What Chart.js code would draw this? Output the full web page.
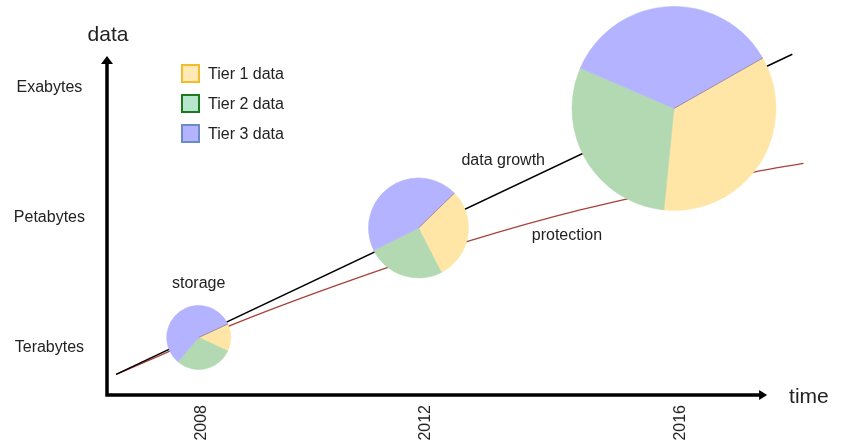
<!DOCTYPE html>
<html>
<head>
<meta charset="utf-8">
<script src="https://cdn.jsdelivr.net/npm/chart.js@4.4.1/dist/chart.umd.min.js"></script>
<style>
    body { margin: 0; background: #fff; }
    #wrap { position: relative; width: 845px; height: 447px; font-family: "Liberation Sans", Arial, sans-serif; }
    #growthChart { display: block; }
    #legend { position: absolute; left: 181px; top: 64px; }
    .item { display: flex; align-items: center; height: 19px; margin-bottom: 11px; font-size: 16px; color: #222; }
    .box { width: 19px; height: 19px; box-sizing: border-box; border: 2px solid; margin-right: 8px; }
</style>
</head>
<body>
<div id="wrap">
    <canvas id="growthChart" width="845" height="447"></canvas>
    <div id="legend"></div>
</div>
<script>
// x = position along the time axis (0 = origin, 100 = right edge), y = data volume in TB
var tierLabels = ['Tier 1 data', 'Tier 2 data', 'Tier 3 data'];

var yearLabels = ['2008', '2012', '2016'];
var yearTicks = [13.5, 45.5, 82.0];

var volumeLabels = ['Terabytes', 'Petabytes', 'Exabytes'];
var volumeTicks = [1, 1e3, 1e6];

var growthTime = [1.3, 97.9];
var growthVolume = [0.216, 5.25e6];

var protectionTime = [1.3, 19.0, 35.0, 51.4, 67.6, 92.3, 99.5];
var protectionVolume = [0.216, 3.54, 32.5, 248, 1340, 9930, 16000];

var pieTime = [13.1, 44.5, 81.0];
var pieVolume = [1.53, 515, 2.95e5];
var tier1Share = [13.8, 29.7, 34.8];
var tier2Share = [29.3, 25.2, 29.9];
var tier3Share = [56.9, 45.1, 35.3];

var notes = ['storage', 'data growth', 'protection'];
var noteTime = [13.1, 56.6, 65.7];
var noteVolume = [26.3, 1.81e4, 336];

// look
var pieRadius = [32, 50, 102];
var pieStart = [-24.8, -44.2, -29.6];
var tierColors = ['#ffe6a6', '#b3d9b3', '#b3b3ff'];
var legendFill = ['#ffe9b5', '#b6e6cc', '#b3b3ff'];
var legendBorder = ['#f2bd2a', '#1d7a1d', '#6a8cc4'];
var xAxisEnd = 94.3;
var yAxisEnd = 4.8e6;
var textColor = '#222';
var fontFamily = '"Liberation Sans", Arial, sans-serif';

document.addEventListener("DOMContentLoaded", function () {
    Chart.defaults.font.family = fontFamily;
    Chart.defaults.font.size = 16;
    Chart.defaults.color = textColor;

    var legend = document.getElementById('legend');
    tierLabels.forEach(function (label, i) {
        legend.insertAdjacentHTML('beforeend',
            `<div class="item"><span class="box" style="background:${legendFill[i]};border-color:${legendBorder[i]}"></span>${label}</div>`);
    });

    var diagramPlugin = {
        id: 'diagram',
        afterDatasetsDraw: function (chart) {
            var ctx = chart.ctx;
            var xs = chart.scales.x;
            var ys = chart.scales.y;
            var shares = [tier1Share, tier2Share, tier3Share];

            ctx.save();
            pieTime.forEach(function (t, i) {
                var cx = xs.getPixelForValue(t);
                var cy = ys.getPixelForValue(pieVolume[i]);
                var r = pieRadius[i];
                var start = pieStart[i] * Math.PI / 180;
                var a = start;
                shares.forEach(function (s, k) {
                    var sweep = s[i] / 100 * Math.PI * 2;
                    ctx.beginPath();
                    ctx.moveTo(cx, cy);
                    ctx.arc(cx, cy, r, a, a + sweep);
                    ctx.closePath();
                    ctx.fillStyle = tierColors[k];
                    ctx.fill();
                    ctx.strokeStyle = tierColors[k];
                    ctx.lineWidth = 0.6;
                    ctx.stroke();
                    a += sweep;
                });
                // thin seam between tier 3 and tier 1
                ctx.beginPath();
                ctx.moveTo(cx, cy);
                ctx.lineTo(cx + r * Math.cos(start), cy + r * Math.sin(start));
                ctx.strokeStyle = 'rgba(160, 120, 120, 0.7)';
                ctx.lineWidth = 1;
                ctx.stroke();
            });
            ctx.restore();
        },
        afterDraw: function (chart) {
            var ctx = chart.ctx;
            var xs = chart.scales.x;
            var ys = chart.scales.y;
            var left = xs.getPixelForValue(0);
            var bottom = chart.chartArea.bottom;
            var tipX = xs.getPixelForValue(xAxisEnd);
            var tipY = ys.getPixelForValue(yAxisEnd);

            ctx.save();
            ctx.strokeStyle = '#000';
            ctx.fillStyle = '#000';
            ctx.lineWidth = 3.5;

            ctx.beginPath();
            ctx.moveTo(left, bottom + 1.75);
            ctx.lineTo(left, tipY + 7);
            ctx.moveTo(left - 1.75, bottom);
            ctx.lineTo(tipX - 7, bottom);
            ctx.stroke();

            ctx.beginPath();
            ctx.moveTo(left, tipY);
            ctx.lineTo(left - 6, tipY + 8);
            ctx.lineTo(left + 6, tipY + 8);
            ctx.closePath();
            ctx.fill();

            ctx.beginPath();
            ctx.moveTo(tipX, bottom);
            ctx.lineTo(tipX - 8, bottom - 5);
            ctx.lineTo(tipX - 8, bottom + 5);
            ctx.closePath();
            ctx.fill();

            ctx.fillStyle = textColor;
            ctx.textBaseline = 'middle';
            ctx.font = '21px ' + fontFamily;
            ctx.textAlign = 'center';
            ctx.fillText('data', left + 1, tipY - 21);
            ctx.textAlign = 'left';
            ctx.fillText('time', tipX + 22, bottom + 2);

            ctx.font = '16px ' + fontFamily;
            ctx.textAlign = 'center';
            notes.forEach(function (n, i) {
                ctx.fillText(n, xs.getPixelForValue(noteTime[i]), ys.getPixelForValue(noteVolume[i]));
            });
            ctx.restore();
        }
    };

    var ctx = document.getElementById('growthChart').getContext('2d');
    var growthChart = new Chart(ctx, {
        type: 'line',
        data: {
            datasets: [{
                label: 'data growth',
                data: growthTime.map(function (t, i) { return { x: t, y: growthVolume[i] }; }),
                borderColor: '#000',
                borderWidth: 1.5,
                pointRadius: 0,
                tension: 0
            }, {
                label: 'protection',
                data: protectionTime.map(function (t, i) { return { x: t, y: protectionVolume[i] }; }),
                borderColor: '#a8413b',
                borderWidth: 1.3,
                pointRadius: 0,
                cubicInterpolationMode: 'monotone'
            }]
        },
        options: {
            responsive: false,
            animation: false,
            events: [],
            layout: {
                padding: { top: 5, right: 38, left: 0, bottom: 0 }
            },
            scales: {
                x: {
                    type: 'linear',
                    min: 0,
                    max: 100,
                    bounds: 'data',
                    grid: { display: false, drawTicks: false },
                    border: { display: false },
                    afterBuildTicks: function (scale) {
                        scale.ticks = yearTicks.map(function (v) { return { value: v }; });
                    },
                    afterFit: function (scale) {
                        scale.height = 52;
                        scale.paddingLeft = 0;
                        scale.paddingRight = 0;
                    },
                    ticks: {
                        autoSkip: false,
                        minRotation: 90,
                        maxRotation: 90,
                        padding: 10,
                        callback: function (value, index) {
                            return yearLabels[index];
                        }
                    }
                },
                y: {
                    type: 'logarithmic',
                    min: 0.072,
                    max: 7.2e7,
                    bounds: 'data',
                    grid: { display: false, drawTicks: false },
                    border: { display: false },
                    afterBuildTicks: function (scale) {
                        scale.ticks = volumeTicks.map(function (v) { return { value: v }; });
                    },
                    afterFit: function (scale) {
                        scale.width = 107;
                        scale.paddingTop = 0;
                        scale.paddingBottom = 0;
                    },
                    ticks: {
                        crossAlign: 'center',
                        padding: 22,
                        labelOffset: 2,
                        callback: function (value, index) {
                            return volumeLabels[index];
                        }
                    }
                }
            },
            plugins: {
                legend: { display: false },
                tooltip: { enabled: false }
            }
        },
        plugins: [diagramPlugin]
    });
});
</script>
</body>
</html>
